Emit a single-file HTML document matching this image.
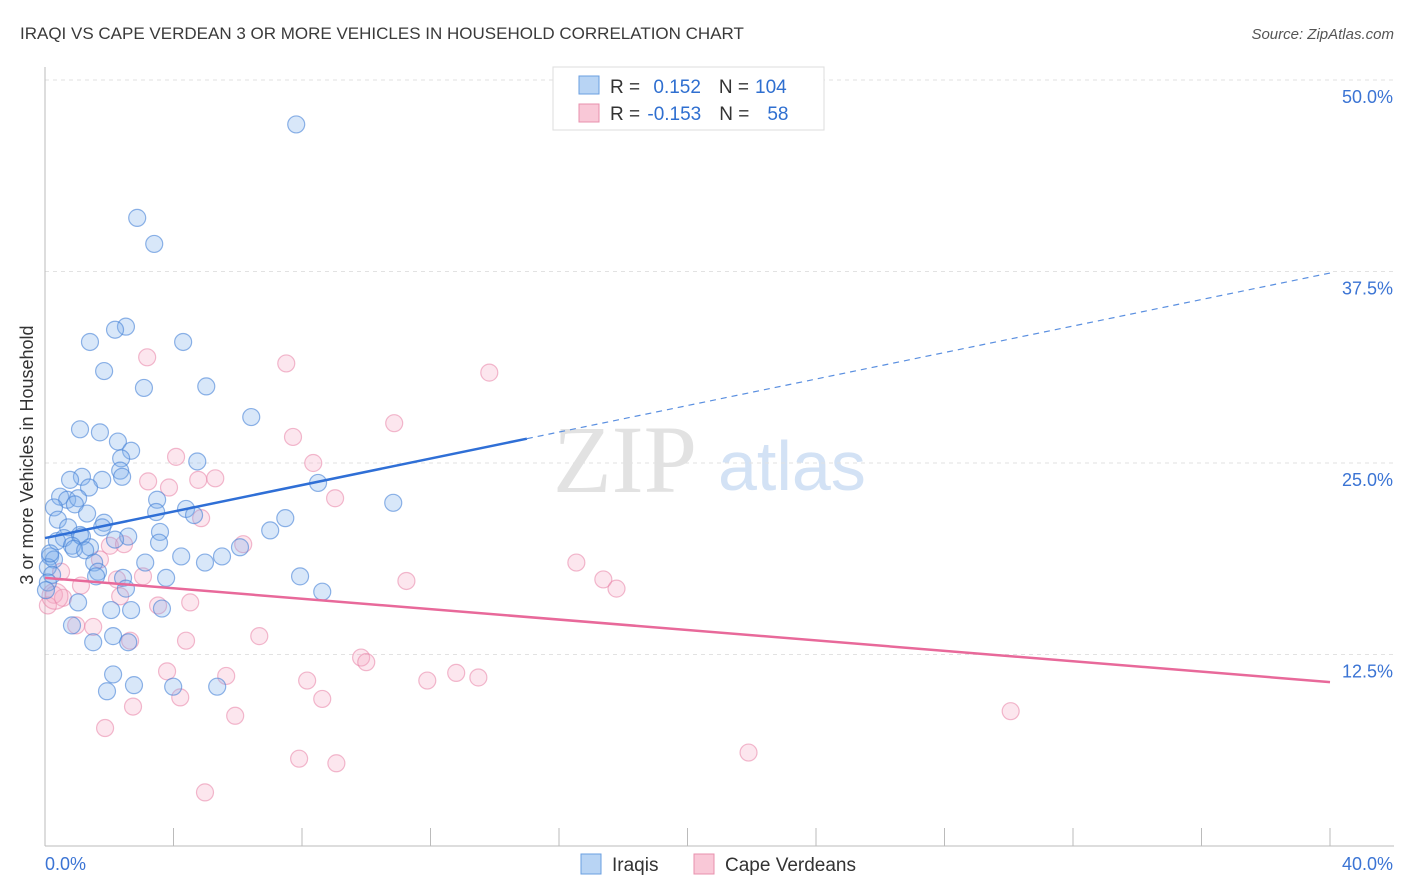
<!DOCTYPE html>
<html><head><meta charset="utf-8"><style>
body{margin:0;background:#fff;font-family:"Liberation Sans",sans-serif}
svg{display:block}
</style></head><body>
<svg id="chart" width="1406" height="892">
<text x="20" y="39" font-size="17" fill="#3a3a3a">IRAQI VS CAPE VERDEAN 3 OR MORE VEHICLES IN HOUSEHOLD CORRELATION CHART</text>
<text x="1394" y="39" font-size="15" fill="#555" font-style="italic" text-anchor="end">Source: ZipAtlas.com</text>
<g>
<text x="553" y="492" font-size="96" font-family="Liberation Serif,serif" fill="#e2e2e2">ZIP</text>
<text x="718" y="490" font-size="70" fill="#d3e2f5">atlas</text>
</g>
<g id="grid"></g>
<g id="axes"></g>
<g id="points"></g>
<g id="trends"></g>
<text x="33" y="455" font-size="18" fill="#333" text-anchor="middle" transform="rotate(-90 33 455)">3 or more Vehicles in Household</text>
<g>
<rect x="553" y="67" width="271" height="63" fill="#fff" stroke="#ddd"/>
<rect x="579" y="76" width="20" height="18" fill="#b8d4f4" stroke="#6a9fe0"/>
<rect x="579" y="104" width="20" height="18" fill="#f9c8d7" stroke="#e890ae"/>
<text x="610" y="93" font-size="19" fill="#333">R = <tspan fill="#2f6fd0" dx="8">0.152</tspan><tspan fill="#333" dx="18">N =</tspan><tspan fill="#2f6fd0" dx="6">104</tspan></text>
<text x="610" y="120" font-size="19" fill="#333">R = <tspan fill="#2f6fd0" dx="2">-0.153</tspan><tspan fill="#333" dx="18">N =</tspan><tspan fill="#2f6fd0" dx="18">58</tspan></text>
</g>
<g>
<rect x="581" y="854" width="20" height="20" fill="#b8d4f4" stroke="#6a9fe0"/>
<text x="612" y="871" font-size="19" fill="#333">Iraqis</text>
<rect x="694" y="854" width="20" height="20" fill="#f9c8d7" stroke="#e890ae"/>
<text x="725" y="871" font-size="19" fill="#333">Cape Verdeans</text>
</g>
</svg>
<script>
const yTicks=[12.5,25,37.5,50];
const yTickLabels=["12.5%","25.0%","37.5%","50.0%"];
const xTickLabels=["0.0%","40.0%"];
const iraqiX=[7.82,2.87,3.40,2.52,2.18,1.40,4.30,1.84,3.08,5.02,6.42,1.09,1.71,2.27,2.68,2.37,4.74,2.34,2.40,1.15,0.78,1.78,1.37,8.50,0.47,0.69,1.03,3.49,10.84,0.28,0.93,4.39,3.46,4.64,1.31,7.48,0.40,0.72,1.84,1.78,7.01,3.58,1.09,0.59,1.15,2.59,2.18,0.37,0.84,1.40,3.55,6.07,0.90,1.25,5.51,4.24,4.98,3.12,1.53,0.16,0.28,0.09,0.22,1.65,1.59,2.43,3.77,7.94,8.63,2.52,0.09,1.03,2.06,2.68,3.64,0.84,2.12,1.50,2.59,2.12,1.93,2.77,3.99,5.36,0.16,0.03];
const iraqiY=[47.1,41.0,39.3,33.9,33.7,32.9,32.9,31.0,29.9,30.0,28.0,27.2,27.0,26.4,25.8,25.3,25.1,24.5,24.1,24.1,23.9,23.9,23.4,23.7,22.8,22.6,22.7,22.6,22.4,22.1,22.3,22.0,21.8,21.6,21.7,21.4,21.3,20.8,21.1,20.8,20.6,20.5,20.3,20.1,20.2,20.2,20.0,19.9,19.6,19.5,19.8,19.5,19.4,19.3,18.9,18.9,18.5,18.5,18.5,18.9,18.7,18.2,17.7,17.9,17.6,17.5,17.5,17.6,16.6,16.8,17.2,15.9,15.4,15.4,15.5,14.4,13.7,13.3,13.3,11.2,10.1,10.5,10.4,10.4,19.1,16.7];
const capeX=[7.51,3.18,13.83,10.87,7.72,4.08,8.35,3.21,5.30,4.77,3.86,9.03,4.86,2.02,2.46,6.17,1.71,16.54,17.38,17.79,11.25,0.50,3.05,2.24,1.12,0.28,0.56,0.09,2.34,3.52,4.52,0.97,1.50,4.39,6.67,2.65,9.84,10.00,3.80,5.64,12.80,13.49,11.90,8.16,4.21,8.63,2.74,5.92,30.06,1.87,21.90,7.91,9.07,4.98,0.31];
const capeY=[31.5,31.9,30.9,27.6,26.7,25.4,25.0,23.8,24.0,23.9,23.4,22.7,21.4,19.6,19.7,19.7,18.7,18.5,17.4,16.8,17.3,17.9,17.6,17.4,17.0,16.4,16.2,15.7,16.3,15.7,15.9,14.4,14.3,13.4,13.7,13.4,12.3,12.0,11.4,11.1,11.3,11.0,10.8,10.8,9.7,9.6,9.1,8.5,8.8,7.7,6.1,5.7,5.4,3.5,16.3];
const iraqiTrend=[20.1,37.4];
const capeTrend=[17.5,10.7];
const iraqiSolidEnd=15.0;

const NS="http://www.w3.org/2000/svg";
const X0=45,X1=1330,Y0=846,Y50=80;
function sx(v){return X0+(X1-X0)*v/40;}
function sy(v){return Y0-(Y0-Y50)*v/50;}
function mk(tag,attrs,parent){const e=document.createElementNS(NS,tag);for(const k in attrs)e.setAttribute(k,attrs[k]);parent.appendChild(e);return e;}
const grid=document.getElementById('grid'),axes=document.getElementById('axes');
yTicks.forEach((t,i)=>{
  const l=mk('line',{x1:X0,x2:1394,y1:sy(t),y2:sy(t),stroke:'#e2e2e2','stroke-dasharray':'4 4'},grid);
  
  
  const tx=mk('text',{x:1393,y:sy(t)+23,'font-size':18,fill:'#3b74d4','text-anchor':'end'},axes);
  tx.textContent=yTickLabels[i];
  
  
});
mk('line',{x1:X0,x2:X0,y1:67,y2:Y0,stroke:'#bbb'},axes);
mk('line',{x1:X0,x2:1394,y1:Y0,y2:Y0,stroke:'#bbb'},axes);
for(let i=1;i<=10;i++){mk('line',{x1:sx(i*4),x2:sx(i*4),y1:Y0,y2:Y0-18,stroke:'#bbb'},axes);}
[[0,'start',45],[40,'end',1393]].forEach((d,i)=>{
  const tx=mk('text',{x:d[2],y:870,'font-size':18,fill:'#3b74d4','text-anchor':d[1]},axes);
  tx.textContent=xTickLabels[i];
  
  
});
const pts=document.getElementById('points');
capeX.forEach((x,i)=>{
  const c=mk('circle',{cx:sx(x),cy:sy(capeY[i]),r:i==capeX.length-1?13:8.5,fill:'rgba(244,165,195,0.28)',stroke:'rgba(232,130,165,0.55)','stroke-width':1.2},pts);
  
  
});
iraqiX.forEach((x,i)=>{
  const c=mk('circle',{cx:sx(x),cy:sy(iraqiY[i]),r:8.5,fill:'rgba(125,175,235,0.3)',stroke:'rgba(70,130,215,0.6)','stroke-width':1.2},pts);
  
  
});
const tr=document.getElementById('trends');
const bm=(iraqiTrend[1]-iraqiTrend[0])/40;
const b1=mk('line',{x1:sx(0),y1:sy(iraqiTrend[0]),x2:sx(iraqiSolidEnd),y2:sy(iraqiTrend[0]+bm*iraqiSolidEnd),stroke:'#2f6fd6','stroke-width':2.5},tr);


const b2=mk('line',{x1:sx(iraqiSolidEnd),y1:sy(iraqiTrend[0]+bm*iraqiSolidEnd),x2:sx(40),y2:sy(iraqiTrend[1]),stroke:'#5a8fe0','stroke-width':1.2,'stroke-dasharray':'6 5'},tr);


const p1=mk('line',{x1:sx(0),y1:sy(capeTrend[0]),x2:sx(40),y2:sy(capeTrend[1]),stroke:'#e8699a','stroke-width':2.5},tr);


</script>
</body></html>
